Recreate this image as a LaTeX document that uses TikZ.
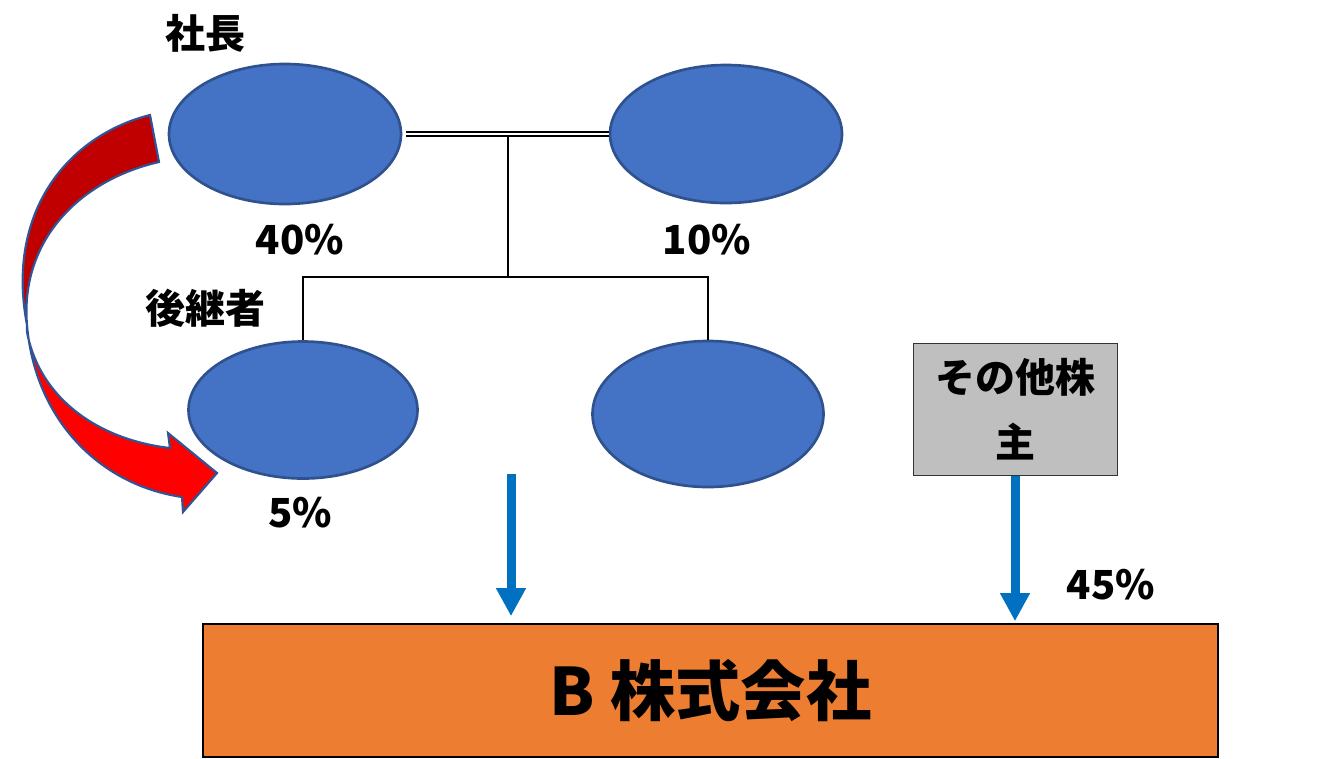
\documentclass[tikz,border=0pt]{standalone}
\usepackage{fontspec}
\setmainfont{Noto Sans CJK JP}
\usetikzlibrary{shapes.geometric,arrows.meta,calc}
\definecolor{ellfill}{HTML}{4472C4}
\definecolor{elldraw}{HTML}{2F528F}
\definecolor{orangebox}{HTML}{ED7D31}
\definecolor{graybox}{HTML}{BFBFBF}
\definecolor{bluearrow}{HTML}{0070C0}
\definecolor{darkred}{HTML}{C00000}
\definecolor{brightred}{HTML}{FF0000}
\definecolor{redline}{HTML}{2F5597}
\tikzset{
  ell/.style={ellipse, fill=ellfill, draw=elldraw, line width=2pt, inner sep=0pt},
  lbl/.style={font=\fontsize{30pt}{36pt}\selectfont\bfseries, inner sep=0pt},
  conn/.style={line width=1pt, black},
  dbl/.style={double, double distance=1.8pt, line width=1.2pt},
  barrow/.style={bluearrow, line width=6.75pt, -{Triangle[width=21pt,length=21pt]}},
  redband/.style={draw=redline, line width=1.6pt, line join=miter}
}
\begin{document}
\begin{tikzpicture}[x=0.75pt,y=-0.75pt]
\useasboundingbox (0,0) rectangle (1319,758);
% ellipses
\node[ell, minimum width=174pt, minimum height=105pt] (ceo) at (285,134) {};
\node[ell, minimum width=174pt, minimum height=103.5pt] (partner) at (726,134) {};
\node[ell, minimum width=171.75pt, minimum height=102.75pt] (succ) at (303,410) {};
\node[ell, minimum width=173.25pt, minimum height=109.5pt] (child) at (708,414) {};
% labels
\node[lbl] (tceo) at (205,33) {社長};
\node[lbl] (p40) at (300,240) {40\%};
\node[lbl] (p10) at (707,240) {10\%};
\node[lbl] (tsucc) at (205,308) {後継者};
\node[lbl] (p5) at (300,513) {5\%};
\node[lbl] (p45) at (1111,585) {45\%};
% other shareholders box
\node[draw=black!80, line width=0.75pt, fill=graybox, minimum width=153pt, minimum height=99pt,
      align=center, font=\fontsize{30pt}{48.75pt}\selectfont\bfseries, inner sep=0pt] (others) at (1015,409) {その他株\\主};
% company box
\node[draw=black, line width=1.2pt, fill=orangebox, minimum width=761.25pt, minimum height=99.75pt,
      font=\fontsize{49pt}{56pt}\selectfont\bfseries, inner sep=0pt] (company) at (710.5,690.5) {B 株式会社};
% family tree lines
\draw[dbl] ($(ceo.east)+(4,0)$) -- (partner.west);
\coordinate (j1) at (508,137);
\coordinate (j2) at (508,277);
\draw[conn] (j1) -- (j2);
\draw[conn] (j2) -| (succ.north);
\draw[conn] (j2) -| (child.north);
% blue arrows
\coordinate (a1) at (511,474);
\draw[barrow] (a1) -- ($(a1 |- company.north)+(0,-7)$);
\draw[barrow] (others.south) -- ($(others.south |- company.north)+(0,-2)$);
% red curved arrow
\filldraw[fill=darkred, redband] (150,115) .. controls (70,135) and (5,210) .. (27,325)
  .. controls (20,240) and (80,180) .. (159,162) -- cycle;
\filldraw[fill=brightred, redband] (27,325) .. controls (35,420) and (100,485) .. (182,497)
  -- (183,512) -- (217,473) -- (168,433) -- (170,448)
  .. controls (100,440) and (40,400) .. (27,332) -- cycle;
\end{tikzpicture}
\end{document}
